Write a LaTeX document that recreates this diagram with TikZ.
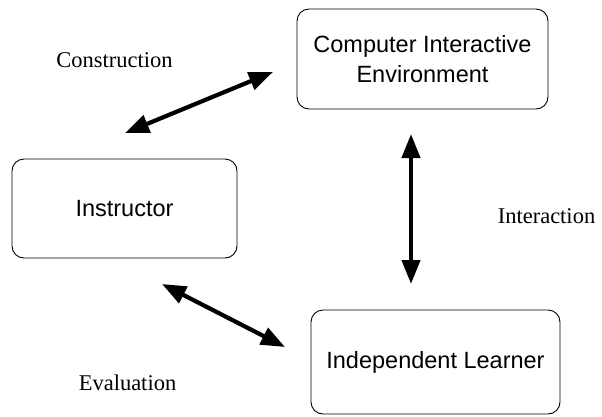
\documentclass[tikz,border=0pt]{standalone}
\usepackage{fontspec}
\setmainfont{Liberation Serif}
\setsansfont{Liberation Sans}
\usetikzlibrary{arrows.meta}

\begin{document}
\begin{tikzpicture}[x=1pt, y=-1pt,
    box/.style={draw, rounded corners=12pt, line width=0.9pt, align=center, inner sep=0pt,
        font=\sffamily\fontsize{23.5}{30}\selectfont},
    arr/.style={{Triangle[length=24pt,width=18pt]}-{Triangle[length=24pt,width=18pt]}, line width=4.2pt},
    lbl/.style={anchor=base, font=\fontsize{22.5}{27}\selectfont}]
    \useasboundingbox (0,0) rectangle (602,416);
    \node[box, minimum width=251pt, minimum height=100pt] (cie) at (422.5,59) {Computer Interactive\\Environment};
    \node[box, minimum width=225pt, minimum height=99pt] (ins) at (124.5,208.5) {Instructor};
    \node[box, minimum width=249pt, minimum height=104pt] (lrn) at (435.5,362) {Independent Learner};
    \coordinate (c1) at (125,133);
    \coordinate (c2) at (273,72);
    \coordinate (i1) at (411,134);
    \coordinate (i2) at (411,284);
    \coordinate (e1) at (162,284);
    \coordinate (e2) at (285,347);
    \draw[arr] (c1) -- (c2);
    \draw[arr] (i1) -- (i2);
    \draw[arr] (e1) -- (e2);
    \node[lbl] (con) at (114.5,67) {Construction};
    \node[lbl] (inter) at (546.5,223) {Interaction};
    \node[lbl] (eval) at (127.5,390) {Evaluation};
\end{tikzpicture}
\end{document}
